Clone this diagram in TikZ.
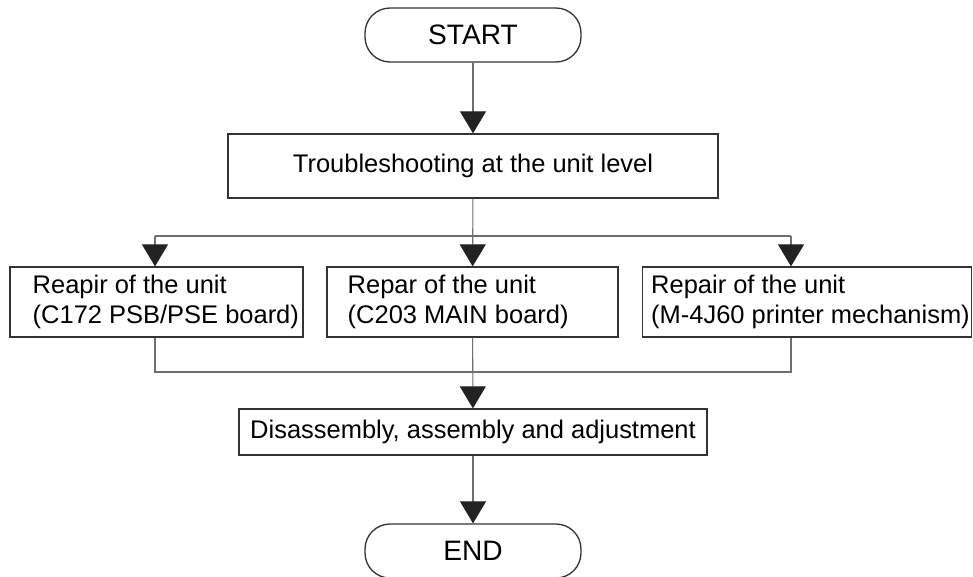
\documentclass[tikz,border=0pt]{standalone}
\usepackage{fontspec}
\setmainfont{Liberation Sans}
\usepackage{tikz}
\usetikzlibrary{arrows.meta, positioning}
\usepackage{xcolor}
\definecolor{boxline}{HTML}{333333}
\definecolor{connline}{HTML}{6E6E6E}
\definecolor{tipfill}{HTML}{222222}

\begin{document}
\begin{tikzpicture}[
      x=0.02cm, y=-0.02cm,
      >={Triangle[length=0.44cm, width=0.52cm, color=tipfill]},
      terminal/.style={
        rectangle, draw=boxline, line width=0.75pt, rounded corners=0.5cm,
        minimum width=4.32cm, minimum height=1.08cm,
        font=\fontsize{16}{19}\selectfont
      },
      block/.style={
        rectangle, draw=boxline, line width=0.75pt,
        minimum height=1.28cm, font=\fontsize{14.5}{17}\selectfont
      },
      unitbox/.style={
        rectangle, draw=boxline, line width=0.75pt,
        minimum height=1.4cm
      },
      unittext/.style={
        anchor=west, align=left, inner sep=0pt,
        font=\fontsize{14.5}{17}\selectfont
      },
      conn/.style={draw=connline, line width=0.6pt}
    ]
    \useasboundingbox (0,0) rectangle (973,576);

    \node[terminal] (start) at (473,35) {START};
    \node[block, minimum width=9.8cm] (trouble) at (473,166) {Troubleshooting at the unit level};

    % the three unit repairs
    \node[unitbox, minimum width=5.86cm] (repA) at (156.5,302) {};
    \node[unitbox, minimum width=5.82cm] (repB) at (472.5,302) {};
    \node[unitbox, minimum width=6.58cm] (repC) at (807,302) {};
    \node[unittext] (repAtxt) at ([xshift=0.46cm]repA.west) {Reapir of the unit\\(C172 PSB/PSE board)};
    \node[unittext] (repBtxt) at ([xshift=0.42cm]repB.west) {Repar of the unit\\(C203 MAIN board)};
    \node[unittext] (repCtxt) at ([xshift=0.18cm]repC.west) {Repair of the unit\\(M-4J60 printer mechanism)};

    \node[block, minimum width=9.36cm, minimum height=0.92cm] (disasm) at (473,432) {Disassembly, assembly and adjustment};
    \node[terminal] (finish) at (473,551) {END};

    \coordinate (splitA) at (155,236);
    \coordinate (splitC) at (791,236);
    \coordinate (mergeA) at (155,372);
    \coordinate (mergeC) at (791,372);

    \foreach \a/\b in {start/trouble, trouble/repB, repB/disasm, disasm/finish}
      \draw[conn, ->] (\a) -- (\b);

    \draw[conn] (splitA) -- (splitC);
    \draw[conn, ->] (splitA) -- (splitA |- repA.north);
    \draw[conn, ->] (splitC) -- (splitC |- repC.north);
    \draw[conn] (repA.south -| mergeA) -- (mergeA) -- (mergeC) -- (mergeC |- repC.south);
  \end{tikzpicture}
\end{document}
